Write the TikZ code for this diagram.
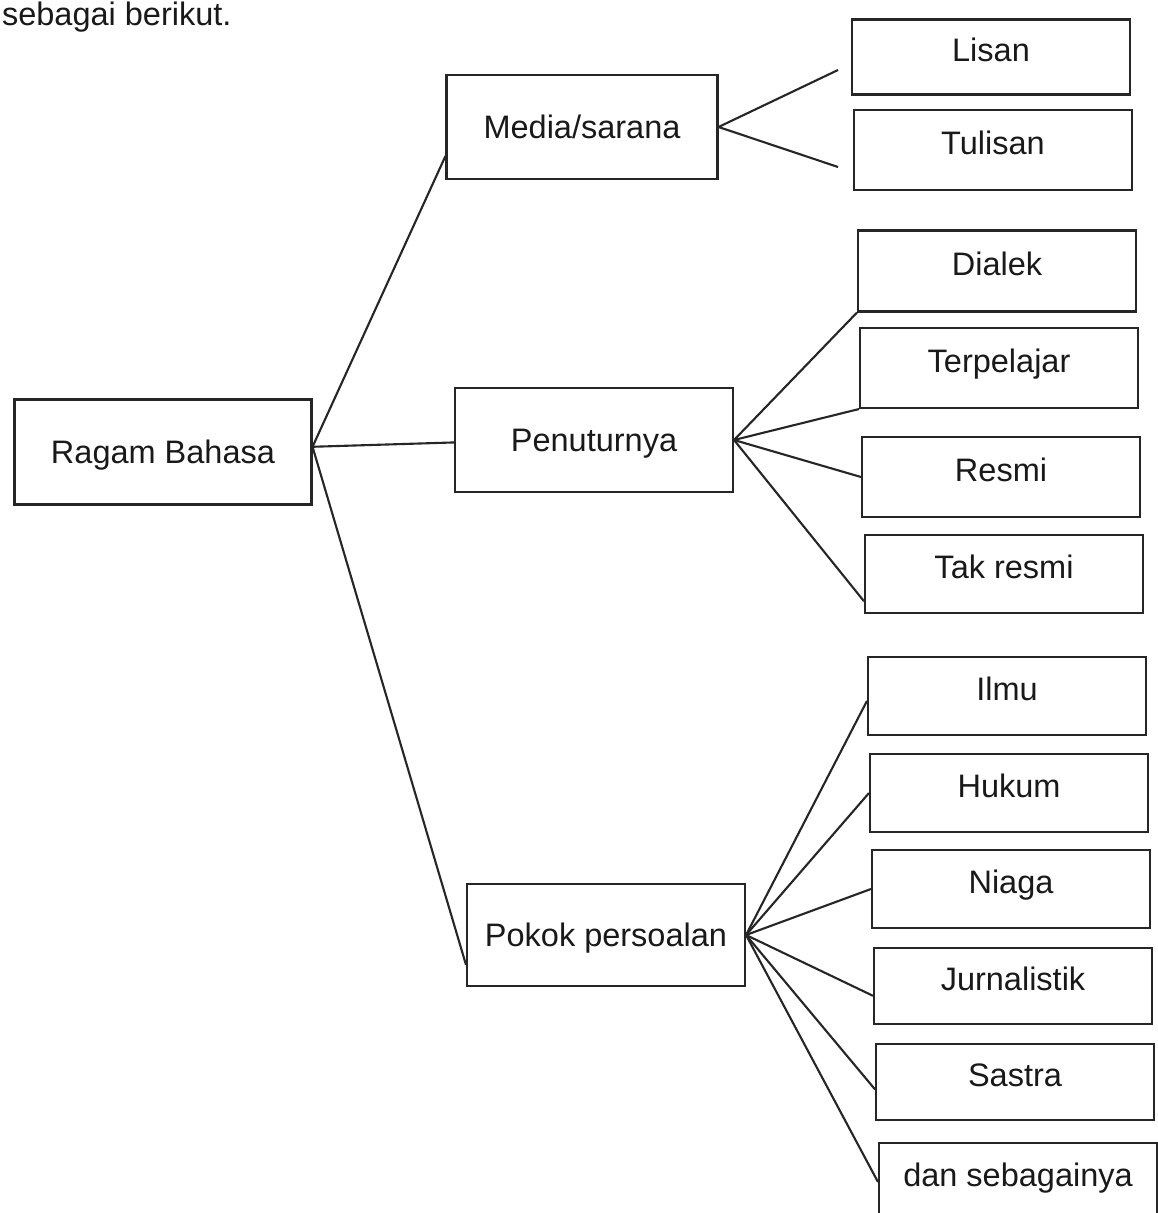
\documentclass[tikz,border=0pt]{standalone}
\usepackage{fontspec}
\setmainfont{Liberation Sans}
\usetikzlibrary{calc}

\begin{document}
\begin{tikzpicture}[x=0.02cm, y=-0.02cm,
	line width=1.2pt, draw=black!85,
	every node/.style={font=\fontsize{18.5}{22}\selectfont, text=black!90},
	bigbox/.style={draw, line width=1.2pt, minimum width=5.5cm, minimum height=2.08cm, inner sep=0pt, text height=0.47cm, text depth=0cm},
	leafbox/.style={draw, line width=1.2pt, minimum width=5.56cm, minimum height=1.56cm, inner sep=0pt, text height=0.45cm, text depth=0.26cm}]
		%%%%% START %%%%%
		\useasboundingbox (0, 0) rectangle (1157, 1213);
		\node[anchor=base west, inner sep=0pt] (intro) at (1, 26) {sebagai berikut.};
		
		\node[bigbox, minimum width=5.94cm, minimum height=2.1cm] (ragam) at (163, 452) {Ragam Bahasa};
		\node[bigbox, minimum width=5.42cm] (media) at (582, 127) {Media/sarana};
		\node[bigbox, minimum width=5.56cm] (penutur) at (594, 440) {Penuturnya};
		\node[bigbox, minimum width=5.56cm, minimum height=2.04cm] (pokok) at (606, 935) {Pokok persoalan};
		
		\node[leafbox, minimum height=1.5cm] (lisan) at (991, 57) {Lisan};
		\node[leafbox, minimum height=1.6cm] (tulisan) at (993, 150) {Tulisan};
		
		\node[leafbox, minimum height=1.62cm] (dialek) at (997, 271) {Dialek};
		\node[leafbox, minimum height=1.6cm] (terpelajar) at (999, 368) {Terpelajar};
		\node[leafbox, minimum height=1.6cm] (resmi) at (1001, 477) {Resmi};
		\node[leafbox] (takresmi) at (1004, 574) {Tak resmi};
		
		\node[leafbox] (ilmu) at (1007, 696) {Ilmu};
		\node[leafbox] (hukum) at (1009, 793) {Hukum};
		\node[leafbox] (niaga) at (1011, 889) {Niaga};
		\node[leafbox, minimum height=1.52cm] (jurnal) at (1013, 986) {Jurnalistik};
		\node[leafbox, minimum height=1.52cm] (sastra) at (1015, 1082) {Sastra};
		\node[leafbox] (dansebagainya) at (1018, 1182) {dan sebagainya};
		
		\coordinate (lisanend) at (838, 70);
		\coordinate (tulisanend) at (838, 167);
		
		\draw (ragam.2) -- (media.192);
		\draw (ragam.2) -- (penutur.181);
		\draw (ragam.2) -- (pokok.192);
		
		\draw (media.east) -- (lisanend);
		\draw (media.east) -- (tulisanend);
		
		\draw (penutur.east) -- (dialek.south west);
		\draw (penutur.east) -- (terpelajar.south west);
		\draw (penutur.east) -- (resmi.west);
		\draw (penutur.east) -- (takresmi.191);
		
		\draw (pokok.east) -- (ilmu.182);
		\draw (pokok.east) -- (hukum.west);
		\draw (pokok.east) -- (niaga.west);
		\draw (pokok.east) -- (jurnal.184);
		\draw (pokok.east) -- (sastra.183);
		\draw (pokok.east) -- (dansebagainya.west);
		%%%%% END %%%%%
\end{tikzpicture}
\end{document}
